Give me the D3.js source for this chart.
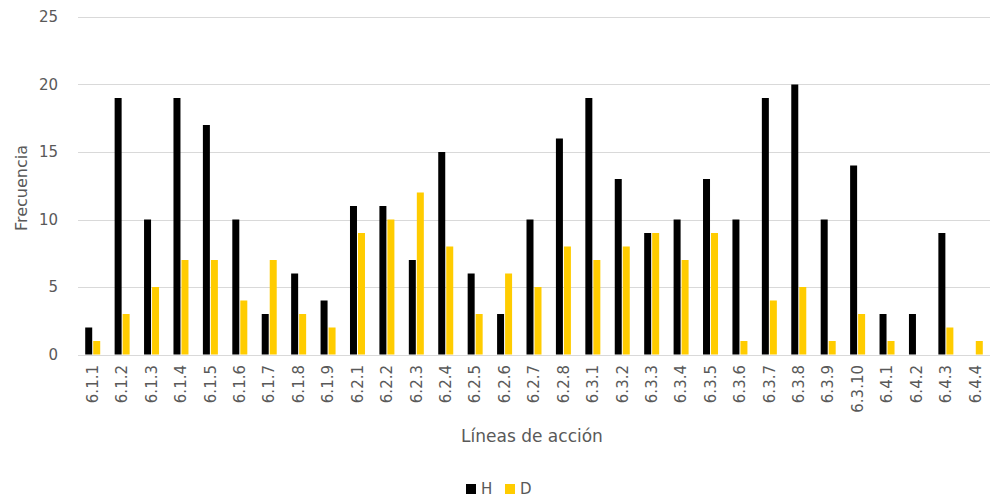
<!DOCTYPE html>
<html>
<head>
<meta charset="utf-8">
<script src="https://cdn.jsdelivr.net/npm/d3@7"></script>
<style>
  body { margin: 0; background: #fff; }
  svg text { font-family: "DejaVu Sans", "Noto Sans", sans-serif; fill: #595959; }
</style>
</head>
<body>
<div id="chart"></div>
<script>
const categories = ["6.1.1","6.1.2","6.1.3","6.1.4","6.1.5","6.1.6","6.1.7","6.1.8","6.1.9",
  "6.2.1","6.2.2","6.2.3","6.2.4","6.2.5","6.2.6","6.2.7","6.2.8",
  "6.3.1","6.3.2","6.3.3","6.3.4","6.3.5","6.3.6","6.3.7","6.3.8","6.3.9","6.3.10",
  "6.4.1","6.4.2","6.4.3","6.4.4"];
const valuesH = [2,19,10,19,17,10,3,6,4, 11,11,7,15,6,3,10,16, 19,13,9,10,13,10,19,20,10,14, 3,3,9,0];
const valuesD = [1,3,5,7,7,4,7,3,2, 9,10,12,8,3,6,5,8, 7,8,9,7,9,1,4,5,1,3, 1,0,2,1];
const seriesNames = ["H", "D"];
const seriesColors = ["#000000", "#FFCC00"];
const yTicks = [0, 5, 10, 15, 20, 25];

const width = 1000, height = 501;
const plotLeft = 78, plotRight = 990, plotTop = 17, plotBottom = 354.5;

const svg = d3.select("#chart").append("svg")
    .attr("width", width)
    .attr("height", height);

const x = d3.scaleBand().domain(categories).range([plotLeft, plotRight]);
const y = d3.scaleLinear().domain([0, 25]).range([plotBottom, plotTop]);

// gridlines
svg.append("g")
    .selectAll("line")
    .data(yTicks)
    .enter().append("line")
    .attr("x1", plotLeft).attr("x2", plotRight)
    .attr("y1", d => Math.round(y(d)) + 0.5)
    .attr("y2", d => Math.round(y(d)) + 0.5)
    .attr("stroke", "#d9d9d9")
    .attr("stroke-width", 1);

// y tick labels
svg.append("g")
    .selectAll("text")
    .data(yTicks)
    .enter().append("text")
    .attr("x", 58)
    .attr("y", d => y(d))
    .attr("dy", "0.35em")
    .attr("text-anchor", "end")
    .style("font-size", "15px")
    .text(d => d);

// bars
const barW = 7, barGap = 1;
const rows = categories.map((c, i) => ({ cat: c, vals: [valuesH[i], valuesD[i]] }));
const groups = svg.append("g")
    .selectAll("g")
    .data(rows)
    .enter().append("g")
    .attr("transform", d => "translate(" + (x(d.cat) + x.bandwidth() / 2 - barW - barGap / 2) + ",0)");

groups.selectAll("rect")
    .data(d => d.vals.map((v, k) => ({ v: v, k: k })))
    .enter().append("rect")
    .attr("x", d => d.k * (barW + barGap))
    .attr("y", d => y(d.v))
    .attr("width", barW)
    .attr("height", d => plotBottom - y(d.v))
    .attr("fill", d => seriesColors[d.k]);

// x tick labels, rotated
svg.append("g")
    .selectAll("text")
    .data(categories)
    .enter().append("text")
    .attr("transform", d => "translate(" + (x(d) + x.bandwidth() / 2) + ",365) rotate(-90)")
    .attr("dy", "0.35em")
    .attr("text-anchor", "end")
    .style("font-size", "15px")
    .text(d => d);

// axis titles
svg.append("text")
    .attr("transform", "translate(27,188) rotate(-90)")
    .attr("text-anchor", "middle")
    .style("font-size", "16px")
    .text("Frecuencia");

svg.append("text")
    .attr("x", 532)
    .attr("y", 442)
    .attr("text-anchor", "middle")
    .style("font-size", "17px")
    .text("Líneas de acción");

// legend
const legend = svg.append("g")
    .selectAll("g")
    .data(seriesNames)
    .enter().append("g")
    .attr("transform", (d, i) => "translate(" + (466 + i * 39) + ",484)");

legend.append("rect")
    .attr("width", 10).attr("height", 10)
    .attr("fill", (d, i) => seriesColors[i]);

legend.append("text")
    .attr("x", 15)
    .attr("y", 10)
    .style("font-size", "15px")
    .text(d => d);
</script>
</body>
</html>
